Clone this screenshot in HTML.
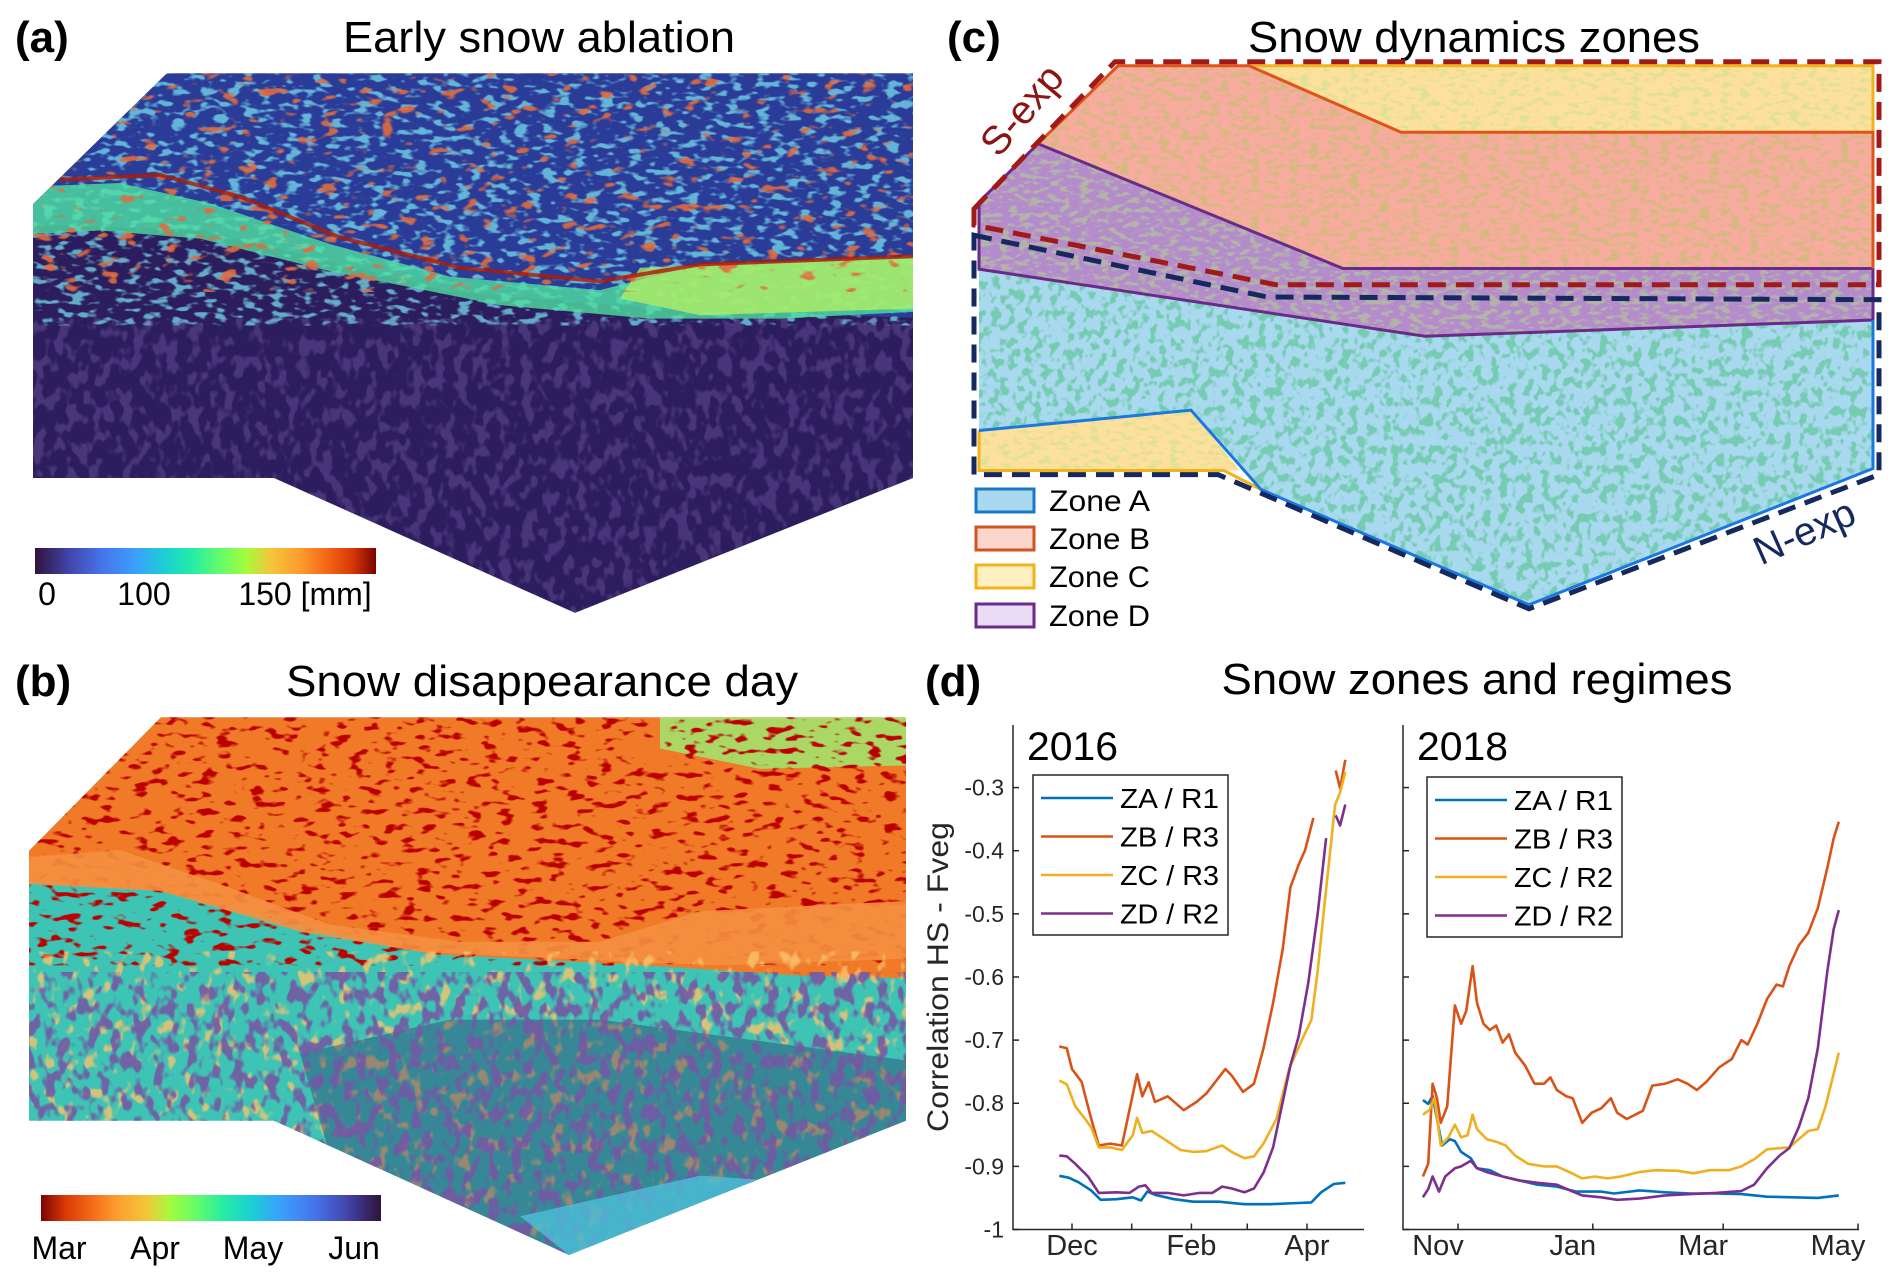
<!DOCTYPE html>
<html><head><meta charset="utf-8"><style>
html,body{margin:0;padding:0;background:#fff;}
svg{display:block;font-family:"Liberation Sans",Arial,sans-serif;}
</style></head><body>
<svg id="fig" width="1888" height="1280" viewBox="0 0 1888 1280" xmlns="http://www.w3.org/2000/svg">
<defs>
  <linearGradient id="turboA" x1="0" x2="1" y1="0" y2="0">
    <stop offset="0" stop-color="#30123b"/><stop offset="0.1" stop-color="#4145ab"/><stop offset="0.2" stop-color="#4675ed"/>
    <stop offset="0.3" stop-color="#39a2fc"/><stop offset="0.38" stop-color="#1bcfd4"/><stop offset="0.46" stop-color="#24eca6"/>
    <stop offset="0.54" stop-color="#61fc6c"/><stop offset="0.62" stop-color="#a4fc3b"/><stop offset="0.69" stop-color="#f3c63a"/>
    <stop offset="0.78" stop-color="#fe9b2d"/><stop offset="0.86" stop-color="#f36315"/><stop offset="0.93" stop-color="#d93806"/>
    <stop offset="1" stop-color="#7a0402"/>
  </linearGradient>
  <linearGradient id="turboB" x1="1" x2="0" y1="0" y2="0">
    <stop offset="0" stop-color="#30123b"/><stop offset="0.1" stop-color="#4145ab"/><stop offset="0.2" stop-color="#4675ed"/>
    <stop offset="0.3" stop-color="#39a2fc"/><stop offset="0.38" stop-color="#1bcfd4"/><stop offset="0.46" stop-color="#24eca6"/>
    <stop offset="0.54" stop-color="#61fc6c"/><stop offset="0.62" stop-color="#a4fc3b"/><stop offset="0.69" stop-color="#f3c63a"/>
    <stop offset="0.78" stop-color="#fe9b2d"/><stop offset="0.86" stop-color="#f36315"/><stop offset="0.93" stop-color="#d93806"/>
    <stop offset="1" stop-color="#7a0402"/>
  </linearGradient>
  <clipPath id="clipA"><polygon points="167,108 913,108 913,705 575,904 274,705 33,705 33,301"/></clipPath>
  <clipPath id="clipB"><polygon points="161,754 906,754 906,1349 569,1547 274,1349 29,1349 29,951"/></clipPath>
  <filter id="nCyan" x="0" y="0" width="1" height="1"><feTurbulence type="fractalNoise" baseFrequency="0.07 0.1" numOctaves="2" seed="3"/><feColorMatrix type="matrix" values="0 0 0 0 0.2  0 0 0 0 0.8  0 0 0 0 0.9  7 0 0 0 -3.7"/></filter>
  <filter id="nRed" x="0" y="0" width="1" height="1"><feTurbulence type="fractalNoise" baseFrequency="0.05 0.07" numOctaves="2" seed="9"/><feColorMatrix type="matrix" values="0 0 0 0 0.75  0 0 0 0 0.15  0 0 0 0 0.05  9 0 0 0 -5.6"/></filter>
  <filter id="nDark" x="0" y="0" width="1" height="1"><feTurbulence type="fractalNoise" baseFrequency="0.06 0.09" numOctaves="2" seed="5"/><feColorMatrix type="matrix" values="0 0 0 0 0.5  0 0 0 0 0.0  0 0 0 0 0.0  9 0 0 0 -5.2"/></filter>
  <filter id="nNavy" x="0" y="0" width="1" height="1"><feTurbulence type="fractalNoise" baseFrequency="0.09 0.04" numOctaves="2" seed="7"/><feColorMatrix type="matrix" values="0 0 0 0 0.17  0 0 0 0 0.1  0 0 0 0 0.37  8 0 0 0 -4.0"/></filter>
  <filter id="nOrange" x="0" y="0" width="1" height="1"><feTurbulence type="fractalNoise" baseFrequency="0.08 0.04" numOctaves="2" seed="11"/><feColorMatrix type="matrix" values="0 0 0 0 0.95  0 0 0 0 0.55  0 0 0 0 0.15  8 0 0 0 -4.6"/></filter>
  <filter id="nGreen" x="0" y="0" width="1" height="1"><feTurbulence type="fractalNoise" baseFrequency="0.12 0.07" numOctaves="2" seed="2"/><feColorMatrix type="matrix" values="0 0 0 0 0.18  0 0 0 0 0.6  0 0 0 0 0.45  8 0 0 0 -4.0"/></filter>
  <filter id="nBrown" x="0" y="0" width="1" height="1"><feTurbulence type="fractalNoise" baseFrequency="0.1 0.14" numOctaves="2" seed="4"/><feColorMatrix type="matrix" values="0 0 0 0 0.68  0 0 0 0 0.48  0 0 0 0 0.22  8 0 0 0 -4.0"/></filter>
  <filter id="nOlive" x="0" y="0" width="1" height="1"><feTurbulence type="fractalNoise" baseFrequency="0.1 0.14" numOctaves="2" seed="6"/><feColorMatrix type="matrix" values="0 0 0 0 0.75  0 0 0 0 0.75  0 0 0 0 0.3  8 0 0 0 -4.2"/></filter>
  <filter id="nGray" x="0" y="0" width="1" height="1"><feTurbulence type="fractalNoise" baseFrequency="0.1 0.14" numOctaves="2" seed="8"/><feColorMatrix type="matrix" values="0 0 0 0 0.45  0 0 0 0 0.45  0 0 0 0 0.4  8 0 0 0 -4.0"/></filter>
  <clipPath id="zA"><polygon points="979,397 1425,496 1873,472 1873,691 1529,892 1261,722 1191,605 979,635"/></clipPath>
  <clipPath id="zB"><polygon points="1118,97 1249,97 1401,195 1873,195 1873,396 1343,396 1038,212"/></clipPath>
  <clipPath id="zC1"><polygon points="1249,97 1873,97 1873,195 1401,195"/></clipPath>
  <clipPath id="zC2"><polygon points="979,635 1191,605 1240,694 979,694"/></clipPath>
  <clipPath id="zD"><polygon points="1038,212 1343,396 1873,396 1873,472 1425,496 979,397 979,298"/></clipPath>
</defs>

<!-- Panel a -->
<g>
  <text x="15" y="52" font-size="44" font-weight="bold">(a)</text>
  <text x="539" y="52" font-size="44" text-anchor="middle" textLength="392" lengthAdjust="spacingAndGlyphs">Early snow ablation</text>
  <g transform="scale(1,0.678)">
  <g clip-path="url(#clipA)">
    <rect x="0" y="100" width="940" height="820" fill="#2c1d5e"/>
    <path d="M0,100 L940,100 L940,470 L700,458 L600,448 L450,430 L330,385 L200,340 L33,330 L0,330 Z" fill="#2a3c98"/>
    <rect x="0" y="100" width="940" height="380" filter="url(#nCyan)" opacity="0.7"/>
    <path d="M33,275 L120,270 L210,300 L330,360 L450,408 L600,428 L700,390 L913,378 L913,460 L780,470 L650,470 L500,450 L330,400 L200,352 L100,340 L33,345 Z" fill="#4fe0a0" opacity="0.8"/>
    <path d="M640,395 L913,380 L913,455 L700,465 L620,440 Z" fill="#b8f060" opacity="0.75"/>
    <rect x="0" y="100" width="940" height="330" filter="url(#nRed)" opacity="0.9"/>
    <path d="M60,265 L160,258 L240,290 L340,350 L460,395 L600,415 L700,390 L913,378" fill="none" stroke="#b01a05" stroke-width="4" opacity="0.8" vector-effect="non-scaling-stroke"/>
    <rect x="0" y="470" width="940" height="440" filter="url(#nNavy)" opacity="0.4"/>
  </g>
  </g>
  <rect x="35" y="548" width="341" height="26" fill="url(#turboA)"/>
  <g font-size="32" text-anchor="middle">
    <text x="47" y="605">0</text><text x="144" y="605">100</text><text x="305" y="605">150 [mm]</text>
  </g>
</g>

<!-- Panel b -->
<g>
  <text x="15" y="696" font-size="44" font-weight="bold">(b)</text>
  <text x="542" y="696" font-size="44" text-anchor="middle" textLength="512" lengthAdjust="spacingAndGlyphs">Snow disappearance day</text>
  <g transform="translate(0,640) scale(1,0.678) translate(0,-640)">
  <g clip-path="url(#clipB)">
    <rect x="0" y="740" width="940" height="820" fill="#3ec4b4"/>
    <path d="M0,740 L940,740 L940,1140 L800,1135 L650,1120 L430,1103 L300,1060 L160,1010 L29,995 L0,995 Z" fill="#f07a28"/>
    <path d="M660,754 L906,754 L906,825 L760,830 L660,800 Z" fill="#9fe870" opacity="0.85"/>
    <rect x="0" y="740" width="940" height="380" filter="url(#nDark)"/>
    <path d="M29,960 L120,950 L220,1000 L330,1060 L460,1085 L600,1085 L700,1040 L906,1025 L906,1110 L720,1120 L560,1110 L420,1100 L300,1070 L160,1010 L29,1000 Z" fill="#f49040" opacity="0.9"/>
    <rect x="0" y="1100" width="940" height="460" filter="url(#nOrange)" opacity="0.8"/>
    <path d="M300,1250 L450,1200 L600,1200 L906,1260 L906,1349 L569,1547 L330,1400 Z" fill="#2a1a60" opacity="0.35"/>
    <rect x="0" y="1130" width="940" height="420" filter="url(#nNavy)" opacity="0.9"/>
    <path d="M520,1490 L700,1430 L800,1440 L569,1547 Z" fill="#4ac0d8" opacity="0.8"/>
  </g>
  </g>
  <rect x="41" y="1195" width="340" height="26" fill="url(#turboB)"/>
  <g font-size="32" text-anchor="middle">
    <text x="59" y="1259">Mar</text><text x="155" y="1259">Apr</text><text x="253" y="1259">May</text><text x="354" y="1259">Jun</text>
  </g>
</g>

<!-- Panel c -->
<g>
  <text x="947" y="52" font-size="44" font-weight="bold">(c)</text>
  <text x="1474" y="52" font-size="44" text-anchor="middle" textLength="452" lengthAdjust="spacingAndGlyphs">Snow dynamics zones</text>
  <g transform="scale(1,0.678)">
  <g>
    <polygon points="979,397 1425,496 1873,472 1873,691 1529,892 1261,722 1191,605 979,635" fill="#a9d9ef"/>
    <rect x="970" y="390" width="910" height="510" filter="url(#nGreen)" clip-path="url(#zA)"/>
  </g>
  <g>
    <polygon points="1118,97 1249,97 1401,195 1873,195 1873,396 1343,396 1038,212" fill="#f8ab9f"/>
    <rect x="1030" y="90" width="850" height="310" filter="url(#nBrown)" clip-path="url(#zB)"/>
  </g>
  <g>
    <polygon points="1249,97 1873,97 1873,195 1401,195" fill="#fde09c"/>
    <rect x="1240" y="90" width="640" height="110" filter="url(#nOlive)" clip-path="url(#zC1)"/>
    <polygon points="979,635 1191,605 1240,694 979,694" fill="#fde09c"/>
    <rect x="970" y="600" width="280" height="100" filter="url(#nOlive)" clip-path="url(#zC2)"/>
    <polyline points="1249,97 1873,97 1873,195" fill="none" stroke="#f2b21a" stroke-width="3" vector-effect="non-scaling-stroke"/>
    <polyline points="979,635 979,694 1224,694 1261,722" fill="none" stroke="#f2b21a" stroke-width="3" vector-effect="non-scaling-stroke"/>
  </g>
  <g>
    <polygon points="1038,212 1343,396 1873,396 1873,472 1425,496 979,397 979,298" fill="#b48ccb"/>
    <rect x="970" y="205" width="910" height="300" filter="url(#nGray)" clip-path="url(#zD)"/>
    <polygon points="1038,212 1343,396 1873,396 1873,472 1425,496 979,397 979,298" fill="none" stroke="#6a2a8a" stroke-width="3" vector-effect="non-scaling-stroke"/>
  </g>
  <polyline points="1038,212 1118,97 1249,97 1401,195 1873,195 1873,396" fill="none" stroke="#e0541a" stroke-width="3" vector-effect="non-scaling-stroke"/>
  <polyline points="979,635 1191,605 1261,722 1529,892 1873,691 1873,472" fill="none" stroke="#1a78e0" stroke-width="3" vector-effect="non-scaling-stroke"/>
  <polygon points="974,308 1115,91 1879,91 1879,420 1276,420 974,332" fill="none" stroke="#a01a1a" stroke-width="5" stroke-dasharray="18,10" vector-effect="non-scaling-stroke"/>
  <polygon points="974,347 1267,438 1879,442 1879,700 1529,898 1218,700 974,700" fill="none" stroke="#16295e" stroke-width="5" stroke-dasharray="18,10" vector-effect="non-scaling-stroke"/>
  </g>
  <text x="1023" y="123" font-size="40" fill="#8b1414" text-anchor="middle" transform="rotate(-50 1023 111)">S-exp</text>
  <text x="1805" y="545" font-size="40" fill="#16295e" text-anchor="middle" transform="rotate(-24 1805 533)">N-exp</text>
  <g>
    <rect x="976" y="489" width="58" height="23" fill="#a9d9ef" stroke="#1a78c8" stroke-width="3"/>
    <rect x="976" y="527" width="58" height="23" fill="#fbd6cc" stroke="#d05420" stroke-width="3"/>
    <rect x="976" y="565" width="58" height="23" fill="#fdf0c0" stroke="#f2b21a" stroke-width="3"/>
    <rect x="976" y="604" width="58" height="23" fill="#eadcf5" stroke="#6a2a8a" stroke-width="3"/>
    <g font-size="30">
      <text x="1049" y="511" textLength="101" lengthAdjust="spacingAndGlyphs">Zone A</text>
      <text x="1049" y="549" textLength="101" lengthAdjust="spacingAndGlyphs">Zone B</text>
      <text x="1049" y="587" textLength="101" lengthAdjust="spacingAndGlyphs">Zone C</text>
      <text x="1049" y="626" textLength="101" lengthAdjust="spacingAndGlyphs">Zone D</text>
    </g>
  </g>
</g>

<!-- Panel d -->
<g>
  <text x="925" y="696" font-size="44" font-weight="bold">(d)</text>
  <text x="1477" y="694" font-size="44" text-anchor="middle" textLength="511" lengthAdjust="spacingAndGlyphs">Snow zones and regimes</text>
  <text x="0" y="0" font-size="30" fill="#262626" text-anchor="middle" textLength="310" lengthAdjust="spacingAndGlyphs" transform="translate(948,977) rotate(-90)">Correlation HS - Fveg</text>
  <g id="chartLeft"></g>
  <g id="chartRight"></g>
</g>
</svg>
<script>
// ---- data (day offsets: 2016 panel from Dec 1, 2018 panel from Nov 1) ----
const yTicks = [-1, -0.9, -0.8, -0.7, -0.6, -0.5, -0.4, -0.3];
const yTickLabels = ["-1", "-0.9", "-0.8", "-0.7", "-0.6", "-0.5", "-0.4", "-0.3"];
const ticksDays2016 = [0, 31, 62, 91, 122];
const tickLabels2016 = ["Dec", "", "Feb", "", "Apr"];
const ticksDays2018 = [0, 61, 120, 181];
const tickLabels2018 = ["Nov", "Jan", "Mar", "May"];
const seriesNames2016 = ["ZA / R1", "ZB / R3", "ZC / R3", "ZD / R2"];
const seriesNames2018 = ["ZA / R1", "ZB / R3", "ZC / R2", "ZD / R2"];
const seriesColors = ["#0072BD", "#D95319", "#EDB120", "#7E2F8E"];

const za16Days = [-6.6,-1.7,3.3,9.9,14.9,23.2,31.5,35.8,39.1,43.1,53,63,76.2,89.5,102.8,117.7,124.3,129.3,135.9,141.9];
const za16Vals = [-0.915,-0.918,-0.925,-0.938,-0.953,-0.952,-0.949,-0.954,-0.94,-0.945,-0.952,-0.956,-0.956,-0.96,-0.96,-0.958,-0.957,-0.941,-0.928,-0.926];
const zb16Days = [-6.6,-2.7,0,5,9.9,13.9,19.9,25.9,33.8,36.5,39.8,43.1,49.7,58,64.6,69.6,79.6,82.9,88.8,94.5,99.4,104.4,109.4,113.4,117.7,121,125.3,130,136.9,139.2,141.9];
const zb16Vals = [-0.71,-0.713,-0.746,-0.766,-0.824,-0.867,-0.864,-0.867,-0.754,-0.789,-0.767,-0.798,-0.789,-0.811,-0.798,-0.785,-0.746,-0.756,-0.782,-0.769,-0.713,-0.641,-0.556,-0.458,-0.422,-0.399,-0.348,null,-0.273,-0.301,-0.256];
const zc16Days = [-6.6,-2.7,1.7,6.6,9.9,13.9,19.9,25.9,31.5,33.8,36.5,41.4,46.4,56.4,63,69.6,77.9,82.9,89.5,94.5,99.4,106.1,112.7,119.3,124.3,127.6,130.9,134.3,136.6,139.2,141.9];
const zc16Vals = [-0.764,-0.77,-0.805,-0.824,-0.838,-0.87,-0.87,-0.874,-0.851,-0.823,-0.847,-0.844,-0.854,-0.874,-0.877,-0.876,-0.867,-0.877,-0.887,-0.884,-0.864,-0.825,-0.746,-0.7,-0.668,-0.589,-0.491,-0.393,-0.327,-0.308,-0.275];
const zd16Days = [-6.6,-2.7,1.7,8.3,13.9,23.2,29.8,34.8,38.1,41.4,49.7,58,66.3,72.9,77.9,82.9,89.5,94.5,99.4,104.4,109.4,113.4,117.7,122.7,127.6,131.9,134,136.9,139.2,141.9];
const zd16Vals = [-0.883,-0.884,-0.896,-0.916,-0.942,-0.941,-0.942,-0.932,-0.93,-0.942,-0.942,-0.946,-0.942,-0.942,-0.932,-0.935,-0.941,-0.935,-0.91,-0.87,-0.798,-0.74,-0.694,-0.609,-0.498,-0.38,null,-0.344,-0.36,-0.327];

const za18Days = [-15.9,-13.5,-11.5,-9.5,-7.2,-3.7,-1.4,1.4,5.8,8.6,14.4,20.2,27.4,36,44.7,53.3,56.2,64.8,70.6,82.1,93.7,105.2,116.7,128.2,139.8,151.3,162.8,172.3];
const za18Vals = [-0.795,-0.801,-0.788,-0.825,-0.867,-0.857,-0.86,-0.877,-0.887,-0.903,-0.906,-0.916,-0.922,-0.929,-0.932,-0.94,-0.94,-0.94,-0.943,-0.938,-0.941,-0.943,-0.943,-0.944,-0.948,-0.949,-0.95,-0.946];
const zb18Days = [-15.9,-13.5,-11.5,-9.5,-7.8,-4.9,-1.4,1.4,3.7,6.6,8.6,11.5,14.4,17.3,20.2,23.1,25.9,30.3,34.6,38.9,41.8,44.7,49,51.9,56.2,60.5,64.8,69.2,72,76.4,83.6,87.9,93.7,99.4,103.8,108.1,112.4,118.2,123.9,128.2,131.1,135.5,139.8,144.1,147,149.9,154.2,158.5,162.8,167.2,170,172.3];
const zb18Vals = [-0.916,-0.896,-0.769,-0.792,-0.831,-0.805,-0.645,-0.674,-0.654,-0.583,-0.641,-0.674,-0.684,-0.677,-0.704,-0.691,-0.72,-0.74,-0.769,-0.769,-0.759,-0.779,-0.789,-0.792,-0.831,-0.815,-0.808,-0.792,-0.815,-0.825,-0.812,-0.772,-0.769,-0.762,-0.769,-0.779,-0.766,-0.743,-0.73,-0.7,-0.707,-0.674,-0.635,-0.612,-0.615,-0.583,-0.55,-0.53,-0.491,-0.426,-0.38,-0.354];
const zc18Days = [-15.9,-13,-10.7,-7.8,-4.3,-1.4,1.4,4.3,6.6,8.6,13,17.3,21.6,25.9,31.7,38.9,44.7,50.4,56.2,62,67.7,73.5,82.1,89.3,99.4,106.6,113.8,122.5,128.2,134,139.8,145.5,149.9,154.2,158.5,162.8,166.3,170,172.3];
const zc18Vals = [-0.818,-0.811,-0.792,-0.867,-0.854,-0.834,-0.854,-0.851,-0.818,-0.841,-0.857,-0.861,-0.867,-0.883,-0.896,-0.9,-0.9,-0.909,-0.919,-0.916,-0.919,-0.916,-0.909,-0.906,-0.907,-0.911,-0.906,-0.906,-0.9,-0.889,-0.873,-0.871,-0.87,-0.857,-0.844,-0.841,-0.805,-0.753,-0.72];
const zd18Days = [-15.9,-13.5,-11.5,-8.6,-5.8,-1.4,1.4,5.8,8.6,13,20.2,27.4,36,44.7,51.9,56.2,64.8,72,82.1,93.7,105.2,116.7,128.2,134,139.8,145.5,149.9,154.2,158.5,162.8,167.2,170,172.3];
const zd18Vals = [-0.949,-0.936,-0.916,-0.94,-0.916,-0.903,-0.9,-0.891,-0.903,-0.909,-0.916,-0.922,-0.926,-0.929,-0.94,-0.946,-0.949,-0.953,-0.951,-0.946,-0.944,-0.942,-0.939,-0.929,-0.903,-0.883,-0.871,-0.838,-0.792,-0.713,-0.589,-0.524,-0.494];

const NS = "http://www.w3.org/2000/svg";
function mk(tag, attrs, parent) {
  const e = document.createElementNS(NS, tag);
  for (const k in attrs) e.setAttribute(k, attrs[k]);
  parent.appendChild(e);
  return e;
}
const Y_BOTTOM = 1229.5, Y_TOP_AXIS = 725;
const yScale = v => Y_BOTTOM - (v + 1) * 631.3;

function drawChart(g, cfg) {
  const xScale = d => cfg.x0 + d * cfg.k;
  const ax = mk("path", {d: `M${cfg.left},${Y_TOP_AXIS} L${cfg.left},${Y_BOTTOM} L${cfg.right},${Y_BOTTOM}`, fill: "none", stroke: "#262626", "stroke-width": 1.5}, g);
  
  
  yTicks.forEach((v, i) => {
    const y = yScale(v);
    const t = mk("line", {x1: cfg.left, x2: cfg.left + 6, y1: y, y2: y, stroke: "#262626", "stroke-width": 1.5}, g);
    
    
    if (cfg.yLabels) {
      const tl = mk("text", {x: cfg.left - 9, y: y + 8, "font-size": 23, "text-anchor": "end", fill: "#262626"}, g);
      tl.textContent = yTickLabels[i];
      
      
    }
  });
  cfg.ticks.forEach((d, i) => {
    const x = xScale(d);
    const t = mk("line", {x1: x, x2: x, y1: Y_BOTTOM, y2: Y_BOTTOM - 6, stroke: "#262626", "stroke-width": 1.5}, g);
    
    
    if (cfg.tickLabels[i]) {
      const tl = mk("text", {x: x + cfg.labelShift, y: 1255, "font-size": 29, "text-anchor": "middle", fill: "#262626"}, g);
      tl.textContent = cfg.tickLabels[i];
      
      
    }
  });
  cfg.series.forEach((s, si) => {
    let d = "", pen = false;
    s.days.forEach((dd, i) => {
      const v = s.vals[i];
      if (v === null) { pen = false; return; }
      d += (pen ? "L" : "M") + xScale(dd).toFixed(1) + "," + yScale(v).toFixed(1) + " ";
      pen = true;
    });
    const p = mk("path", {d: d, fill: "none", stroke: seriesColors[si], "stroke-width": 2.6, "stroke-linejoin": "round"}, g);
    
    
  });
  const yl = mk("text", {x: cfg.left + 14, y: 760, "font-size": 40, textLength: 91, lengthAdjust: "spacingAndGlyphs"}, g);
  yl.textContent = cfg.year;
  
  
  const lg = mk("g", {}, g);
  
  
  const lb = mk("rect", {x: cfg.legX, y: cfg.legY, width: 195, height: 160, fill: "#fff", stroke: "#262626", "stroke-width": 1.5}, lg);
  
  
  cfg.names.forEach((n, i) => {
    const ry = cfg.legY + 23 + i * 38.5;
    const ln = mk("line", {x1: cfg.legX + 8, x2: cfg.legX + 80, y1: ry, y2: ry, stroke: seriesColors[i], "stroke-width": 2.6}, lg);
    
    
    const tx = mk("text", {x: cfg.legX + 87, y: ry + 10, "font-size": 28, textLength: 99, lengthAdjust: "spacingAndGlyphs"}, lg);
    tx.textContent = n;
    
    
  });
}

drawChart(document.getElementById("chartLeft"), {
  left: 1013, right: 1364, x0: 1072, k: (1307 - 1072) / 122, yLabels: true, labelShift: 0,
  ticks: ticksDays2016, tickLabels: tickLabels2016, year: "2016", legX: 1033, legY: 775, names: seriesNames2016,
  series: [{days: za16Days, vals: za16Vals}, {days: zb16Days, vals: zb16Vals}, {days: zc16Days, vals: zc16Vals}, {days: zd16Days, vals: zd16Vals}]
});
drawChart(document.getElementById("chartRight"), {
  left: 1403, right: 1859, x0: 1458, k: (1858 - 1458) / 181, yLabels: false, labelShift: -20,
  ticks: ticksDays2018, tickLabels: tickLabels2018, year: "2018", legX: 1427, legY: 777, names: seriesNames2018,
  series: [{days: za18Days, vals: za18Vals}, {days: zb18Days, vals: zb18Vals}, {days: zc18Days, vals: zc18Vals}, {days: zd18Days, vals: zd18Vals}]
});
</script>
</body></html>
